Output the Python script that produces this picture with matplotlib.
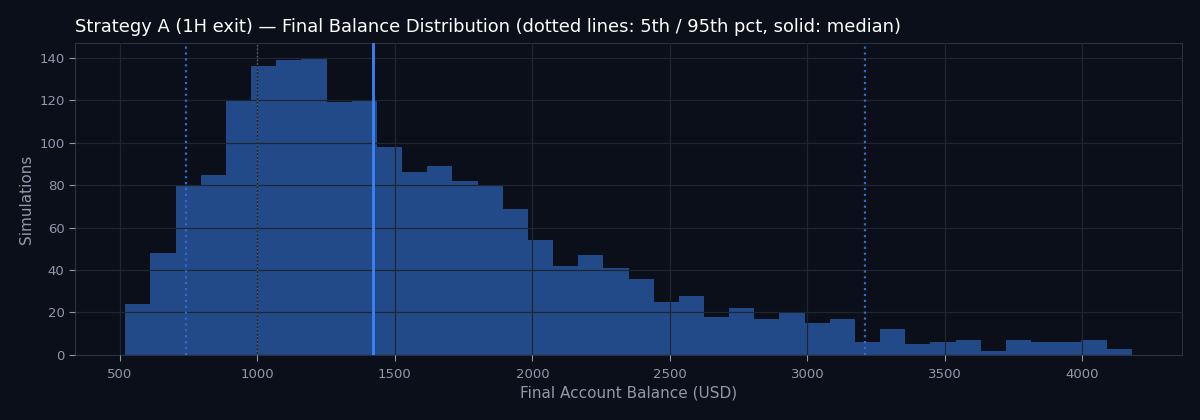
import matplotlib
matplotlib.use("Agg")
import matplotlib.pyplot as plt

# histogram of final balances (40 equal bins)
bin_start = 519.5
bin_width = 91.5
counts = [24, 48, 80, 85, 120, 136, 139, 140, 119, 120,
          98, 86, 89, 82, 80, 69, 54, 42, 47, 41,
          36, 25, 28, 18, 22, 17, 20, 15, 17, 6,
          12, 5, 6, 7, 2, 7, 6, 6, 7, 3]

p5 = 740
p95 = 3210
median = 1420
start_balance = 1000

bg = "#0b0f19"
fg = "#8f98aa"
grid_c = "#1f2633"

edges = [bin_start + i * bin_width for i in range(len(counts))]

fig = plt.figure(figsize=(12, 4.2), dpi=100, facecolor=bg)
ax = fig.add_axes([0.0625, 0.155, 0.9225, 0.7425])
ax.set_facecolor(bg)

ax.bar(edges, counts, width=bin_width, align="edge", color="#234a88",
       linewidth=0, zorder=2)

ax.axvline(p5, color="#2f6ccc", linestyle=":", linewidth=1.6, zorder=3)
ax.axvline(p95, color="#2f6ccc", linestyle=":", linewidth=1.6, zorder=3)
ax.axvline(median, color="#3b82f6", linestyle="-", linewidth=2, zorder=3)
ax.axvline(start_balance, color="#5a6070", linestyle=":", linewidth=1, zorder=3)

ax.grid(True, color=grid_c, linewidth=0.9, zorder=2.5)
ax.set_axisbelow(False)
for s in ax.spines.values():
    s.set_color("#2a3140")
ax.tick_params(colors=fg, labelsize=9.5)
ax.tick_params(axis="both", color="#8f98aa", length=4)
ax.tick_params(axis="x", pad=5.5)

ax.set_xticks([500, 1000, 1500, 2000, 2500, 3000, 3500, 4000])
ax.set_yticks([0, 20, 40, 60, 80, 100, 120, 140])
ax.set_xlabel("Final Account Balance (USD)", color=fg, fontsize=11, labelpad=3)
ax.set_ylabel("Simulations", color=fg, fontsize=11, labelpad=3.5)
ax.set_title("Strategy A (1H exit) \u2014 Final Balance Distribution (dotted lines: 5th / 95th pct, solid: median)",
             loc="left", color="white", fontsize=12.9, pad=8)

fig.savefig("out.png", facecolor=bg)
